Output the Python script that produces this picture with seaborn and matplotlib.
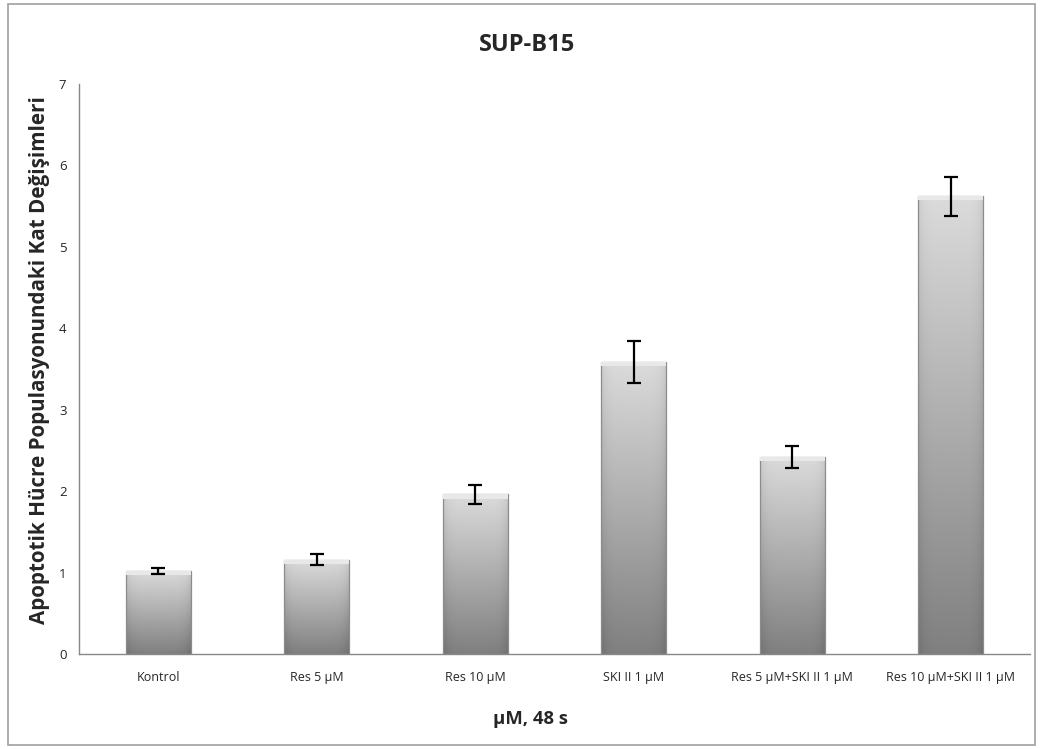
import numpy as np
import pandas as pd
import matplotlib
matplotlib.use("Agg")
import matplotlib.pyplot as plt
import seaborn as sns
from matplotlib.patches import Rectangle

groups = ["Kontrol", "Res 5 µM", "Res 10 µM", "SKI II 1 µM",
          "Res 5 µM+SKI II 1 µM", "Res 10 µM+SKI II 1 µM"]
fold_change = [1.02, 1.16, 1.96, 3.59, 2.42, 5.62]
errors = [0.04, 0.07, 0.12, 0.26, 0.14, 0.24]

df = pd.DataFrame({"group": groups, "value": fold_change})

sns.set_style("white")
plt.rcParams["font.family"] = ["Open Sans", "DejaVu Sans"]

fig = plt.figure(figsize=(10.43, 7.49), dpi=100)
ax = fig.add_axes([0.0757, 0.1268, 0.912, 0.761])

sns.barplot(data=df, x="group", y="value", color="#aaaaaa", width=0.41,
            ax=ax, errorbar=None)

# gradient fill clipped to each bar
ny, nx = 256, 64
vert = np.linspace(0.83, 0.47, ny)[:, None]
xs = np.linspace(-1, 1, nx)[None, :]
horiz = 0.06 * (1 - xs ** 6)
grad = np.clip(vert + horiz - 0.03, 0, 1)
img = np.dstack([grad, grad, grad])
for p in ax.patches:
    x0, w, h = p.get_x(), p.get_width(), p.get_height()
    p.set_facecolor("none")
    p.set_edgecolor("#8c8c8c")
    p.set_linewidth(0.9)
    im = ax.imshow(img, extent=[x0, x0 + w, 0, h], aspect="auto",
                   zorder=p.get_zorder() - 0.1, interpolation="bilinear")
    im.set_clip_path(p)
    # light cap at the top
    ax.add_patch(Rectangle((x0, h - 0.05), w, 0.05, facecolor="#e8e8e8",
                           edgecolor="none", zorder=p.get_zorder() + 0.1))

ax.errorbar(range(len(groups)), fold_change, yerr=errors, fmt="none",
            ecolor="black", elinewidth=1.6, capsize=5, capthick=1.6, zorder=5)

ax.set_xlim(-0.5, len(groups) - 0.5)
ax.set_ylim(0, 7)
ax.set_yticks(range(0, 8))
ax.set_xticks(np.arange(-0.5, len(groups), 1.0))
ax.set_xticklabels([])
ax.set_xticks(range(len(groups)), minor=True)
ax.set_xticklabels(groups, minor=True, fontsize=9)
ax.tick_params(axis="x", which="major", length=5, color="#888888", direction="out")
ax.tick_params(axis="x", which="minor", length=0, pad=12)
ax.tick_params(axis="y", length=5, color="#888888", direction="out", labelsize=9.5, pad=4)

for s in ["top", "right"]:
    ax.spines[s].set_visible(False)
for s in ["left", "bottom"]:
    ax.spines[s].set_color("#888888")
    ax.spines[s].set_linewidth(1.0)

ax.set_xlabel("µM, 48 s", fontsize=13.3, fontweight="bold")
ax.xaxis.set_label_coords(0.475, -0.098)
ax.set_ylabel("Apoptotik Hücre Populasyonundaki Kat Değişimleri",
              fontsize=14.9, fontweight="bold")
ax.yaxis.set_label_coords(-0.030, 0.515)
fig.text(0.505, 0.94, "SUP-B15", ha="center", va="center",
         fontsize=17, fontweight="bold")

fig.patches.append(Rectangle((0.008, 0.005), 0.984, 0.99, transform=fig.transFigure,
                             fill=False, edgecolor="#a0a0a0", linewidth=1.2))

fig.savefig("out.png", dpi=100)
